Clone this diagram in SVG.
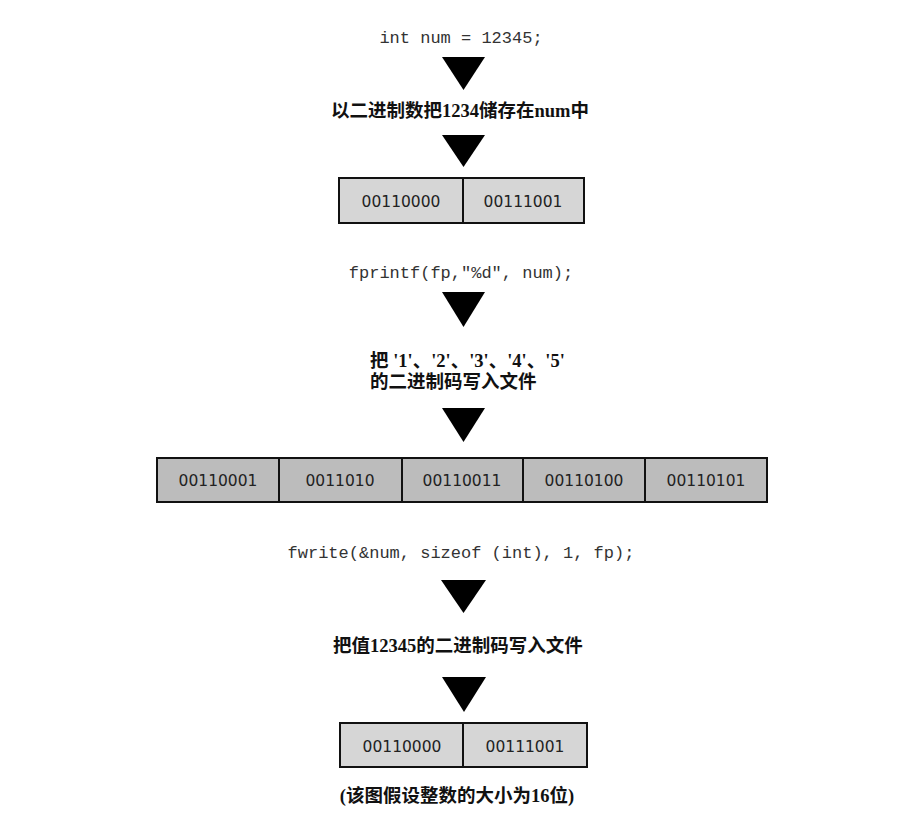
<svg xmlns="http://www.w3.org/2000/svg" width="904" height="835" viewBox="0 0 904 835">
<style>
.code{font-family:"Liberation Mono","DejaVu Sans Mono",monospace;font-size:17px;fill:#333;text-anchor:middle}
.cn{font-family:"Liberation Serif","Noto Sans CJK SC",serif;font-size:18.5px;font-weight:bold;fill:#111;text-anchor:middle}
.cnl{font-family:"Liberation Serif","Noto Sans CJK SC",serif;font-size:18.5px;font-weight:bold;fill:#111}
.cell{stroke:#111;stroke-width:2}
.light{fill:#d6d6d6}
.dark{fill:#bcbcbc}
.bits{font-family:"DejaVu Sans",sans-serif;font-size:15.5px;fill:#222;text-anchor:middle}
.tri{fill:#000}
</style>
<rect width="904" height="835" fill="#fff"/>
<g id="connectors">
<polygon class="tri" points="442,57 485,57 463.5,90"/>
<polygon class="tri" points="442,135 485,135 463.5,167"/>
<polygon class="tri" points="442,292 485,292 463.5,327"/>
<polygon class="tri" points="442,408 485,408 463.5,442"/>
<polygon class="tri" points="441,580 486,580 463.5,613"/>
<polygon class="tri" points="442,677 486,677 464,712"/>
</g>
<g id="code1"><text class="code" x="461" y="43">int num = 12345;</text></g>
<g id="label1"><text class="cn" x="460" y="117">以二进制数把1234储存在num中</text></g>
<g id="box1">
<rect class="cell light" x="339" y="178" width="124" height="45"/>
<rect class="cell light" x="463" y="178" width="121" height="45"/>
<text class="bits" x="401" y="207">00110000</text>
<text class="bits" x="523" y="207">00111001</text>
</g>
<g id="code2"><text class="code" x="461" y="278">fprintf(fp,"%d", num);</text></g>
<g id="label2">
<text class="cnl" x="370" y="367">把 '1'、'2'、'3'、'4'、'5'</text>
<text class="cnl" x="370" y="388">的二进制码写入文件</text>
</g>
<g id="box2">
<rect class="cell dark" x="157" y="458" width="122" height="44"/>
<rect class="cell dark" x="279" y="458" width="123" height="44"/>
<rect class="cell dark" x="402" y="458" width="121" height="44"/>
<rect class="cell dark" x="523" y="458" width="122" height="44"/>
<rect class="cell dark" x="645" y="458" width="122" height="44"/>
<text class="bits" x="218" y="486">00110001</text>
<text class="bits" x="340" y="486">0011010</text>
<text class="bits" x="462" y="486">00110011</text>
<text class="bits" x="584" y="486">00110100</text>
<text class="bits" x="706" y="486">00110101</text>
</g>
<g id="code3"><text class="code" x="461" y="558">fwrite(&amp;num, sizeof (int), 1, fp);</text></g>
<g id="label3"><text class="cn" x="458" y="652">把值12345的二进制码写入文件</text></g>
<g id="box3">
<rect class="cell light" x="340" y="723" width="123" height="44"/>
<rect class="cell light" x="463" y="723" width="124" height="44"/>
<text class="bits" x="402" y="752">00110000</text>
<text class="bits" x="525" y="752">00111001</text>
</g>
<g id="caption"><text class="cn" x="457" y="802">(该图假设整数的大小为16位)</text></g>
</svg>
